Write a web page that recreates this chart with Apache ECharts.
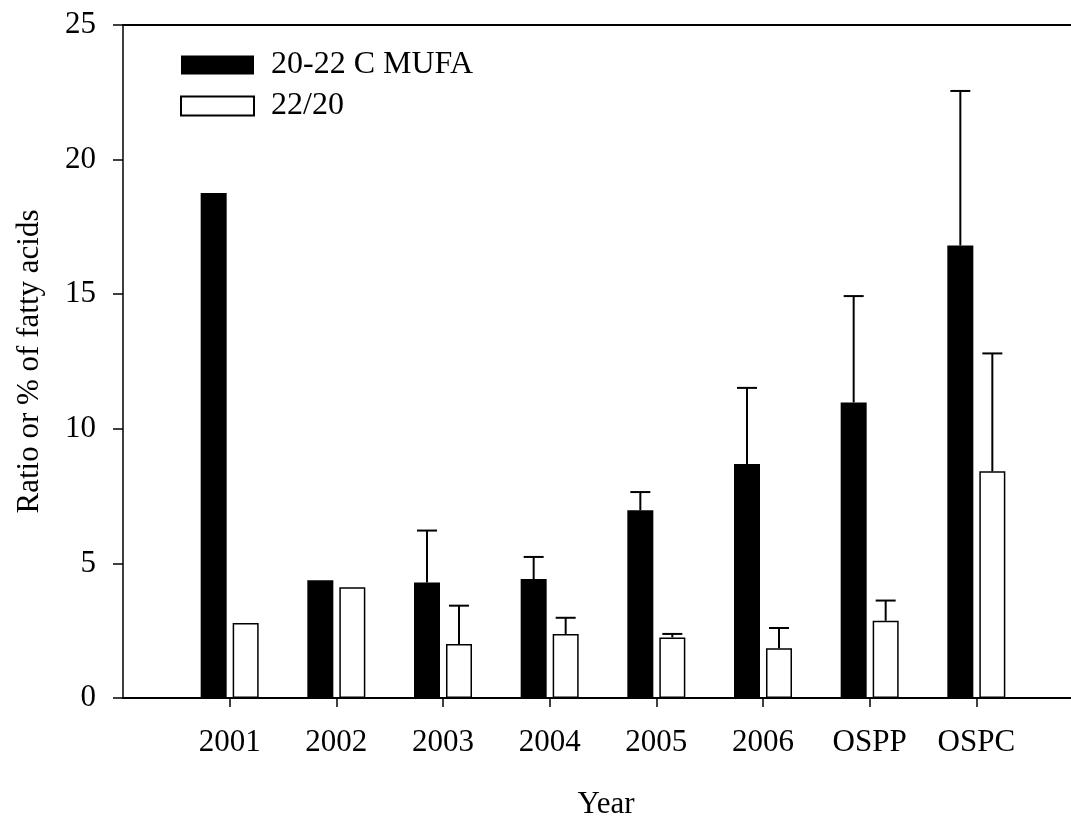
<!DOCTYPE html>
<html>
<head>
<meta charset="utf-8">
<script src="https://cdn.jsdelivr.net/npm/echarts@6/dist/echarts.min.js"></script>
<style>
  html, body { margin: 0; padding: 0; background: #fff; }
  #chart { width: 1071px; height: 816px; }
</style>
</head>
<body>
<div id="chart"></div>
<script>
// Groups along the x axis
const categories = ['2001', '2002', '2003', '2004', '2005', '2006', 'OSPP', 'OSPC'];
// 20-22 C MUFA (% of fatty acids) and its upper error
const mufaValues = [18.76, 4.37, 4.29, 4.42, 6.97, 8.69, 10.98, 16.81];
const mufaErrors = [0, 0, 1.93, 0.82, 0.68, 2.83, 3.95, 5.74];
// 22/20 ratio and its upper error
const ratioValues = [2.79, 4.11, 2.01, 2.38, 2.25, 1.85, 2.87, 8.42];
const ratioErrors = [0, 0, 1.42, 0.60, 0.13, 0.75, 0.75, 4.38];
// y axis ticks
const yTicks = [0, 5, 10, 15, 20, 25];

const FONT = 'Liberation Serif';
const FS = 31;
const BAR_W = 26;
const BAR_OFFSET = 16;   // distance from the group tick to each bar's centre
const CAP = 20;
const X_MAX = 8.8875;    // plot frame runs past the right edge of the page

// group i sits at x = i + 1 on a numeric axis starting at 0
const positions = categories.map((c, i) => i + 1);
const toPairs = values => values.map((v, i) => [positions[i], v]);

function errorData(values, errors) {
  const out = [];
  values.forEach((v, i) => {
    if (errors[i] > 0) out.push([positions[i], v, v + errors[i]]);
  });
  return out;
}

function errorSeries(name, values, errors, offset) {
  return {
    type: 'custom',
    name: name + ' err',
    z: 5,
    silent: true,
    data: errorData(values, errors),
    encode: { x: 0, y: [1, 2] },
    renderItem: function (params, api) {
      const lo = api.coord([api.value(0), api.value(1)]);
      const hi = api.coord([api.value(0), api.value(2)]);
      const x = lo[0] + offset;
      const style = { stroke: '#000', lineWidth: 2, fill: null };
      return {
        type: 'group',
        children: [
          { type: 'line', shape: { x1: x, y1: lo[1], x2: x, y2: hi[1] }, style: style },
          { type: 'line', shape: { x1: x - CAP / 2, y1: hi[1], x2: x + CAP / 2, y2: hi[1] }, style: style }
        ]
      };
    }
  };
}

const chart = echarts.init(document.getElementById('chart'), null, { renderer: 'canvas' });

chart.setOption({
  animation: false,
  backgroundColor: '#fff',
  textStyle: { fontFamily: FONT, color: '#000' },
  grid: { left: 123, top: 25, right: 0, height: 673, containLabel: false, outerBoundsMode: 'none' },
  legend: {
    orient: 'vertical',
    left: 175, top: 44,
    itemWidth: 73, itemHeight: 19, itemGap: 9,
    icon: 'rect',
    textStyle: { fontFamily: FONT, fontSize: 32, color: '#000', padding: [0, 0, 0, 12] },
    data: ['20-22 C MUFA', '22/20']
  },
  xAxis: [
    {
      type: 'value',
      min: 0,
      max: X_MAX,
      name: 'Year',
      nameLocation: 'middle',
      nameGap: 91,
      nameTextStyle: { fontFamily: FONT, fontSize: FS, color: '#000', padding: [0, 0, 0, 18] },
      axisLine: { show: true, onZero: false, lineStyle: { color: '#000', width: 2 } },
      axisTick: { show: true, length: 9, customValues: positions, lineStyle: { color: '#000', width: 1.5 } },
      axisLabel: {
        customValues: positions,
        formatter: v => categories[Math.round(v) - 1] || '',
        margin: 29,
        fontFamily: FONT, fontSize: FS, color: '#000'
      },
      splitLine: { show: false }
    },
    {
      // top edge of the plot frame
      type: 'value',
      position: 'top',
      min: 0,
      max: X_MAX,
      axisLine: { show: true, onZero: false, lineStyle: { color: '#000', width: 2 } },
      axisTick: { show: false },
      axisLabel: { show: false },
      splitLine: { show: false }
    }
  ],
  yAxis: {
    type: 'value',
    min: yTicks[0],
    max: yTicks[yTicks.length - 1],
    interval: yTicks[1] - yTicks[0],
    name: 'Ratio or % of fatty acids',
    nameLocation: 'middle',
    nameGap: 78,
    nameTextStyle: { fontFamily: FONT, fontSize: FS, color: '#000' },
    axisLine: { show: true, onZero: false, lineStyle: { color: '#000', width: 1.5 } },
    axisTick: { show: true, length: 10, lineStyle: { color: '#000', width: 1.5 } },
    axisLabel: { margin: 27, fontFamily: FONT, fontSize: FS, color: '#000' },
    splitLine: { show: false }
  },
  series: [
    {
      name: '20-22 C MUFA',
      type: 'bar',
      data: toPairs(mufaValues),
      barWidth: BAR_W,
      barGap: ((2 * BAR_OFFSET - BAR_W) / BAR_W * 100) + '%',
      itemStyle: { color: '#000', borderColor: '#000', borderWidth: 0 }
    },
    {
      name: '22/20',
      type: 'bar',
      data: toPairs(ratioValues),
      barWidth: BAR_W,
      itemStyle: { color: '#fff', borderColor: '#000', borderWidth: 1.5 }
    },
    errorSeries('20-22 C MUFA', mufaValues, mufaErrors, -BAR_OFFSET),
    errorSeries('22/20', ratioValues, ratioErrors, BAR_OFFSET)
  ]
});
</script>
</body>
</html>
